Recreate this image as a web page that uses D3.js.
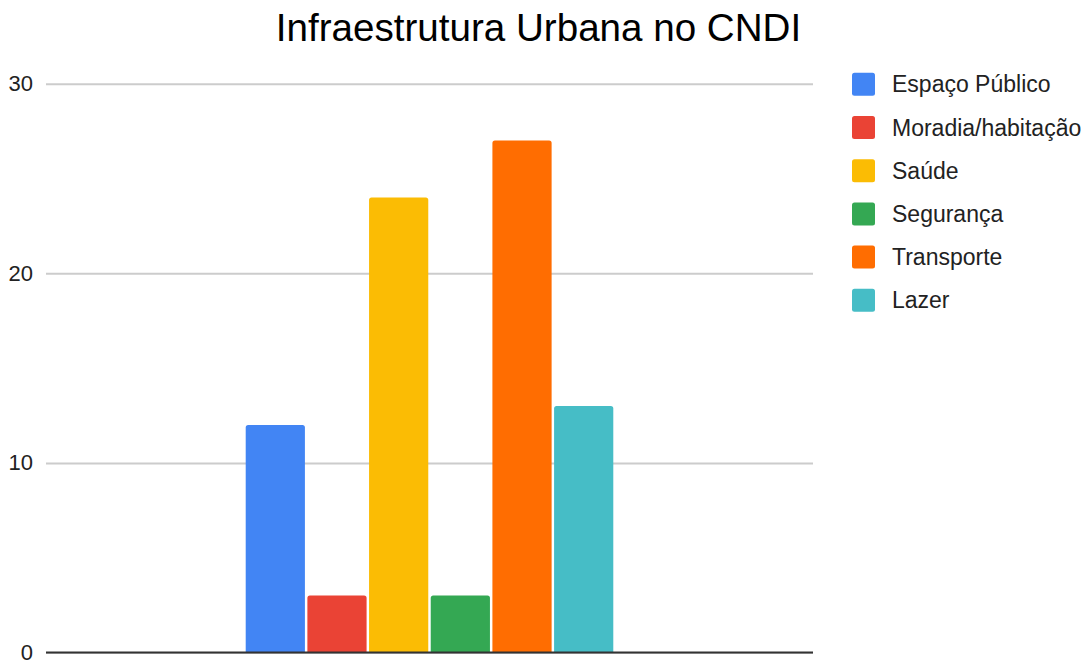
<!DOCTYPE html>
<html lang="pt">
<head>
  <meta charset="UTF-8">
  <title>Infraestrutura Urbana no CNDI</title>
  <script src="https://d3js.org/d3.v7.min.js"></script>
  <style>
    body { margin: 0; background: #fff; }
    svg { display: block; font-family: "Liberation Sans", Arial, sans-serif; }
  </style>
</head>
<body>
  <svg id="chart" width="1087" height="660"></svg>
  <script>
    // dados
    const series = ["Espaço Público", "Moradia/habitação", "Saúde", "Segurança", "Transporte", "Lazer"];
    const values = [12, 3, 24, 3, 27, 13];
    const colors = ["#4285F4", "#EA4335", "#FBBC04", "#34A853", "#FF6D01", "#46BDC6"];
    const yTicks = [0, 10, 20, 30];
    const groups = [""];

    const svg = d3.select("#chart");
    const plotL = 46, plotR = 813, plotT = 83.7, plotB = 652.5;

    const y = d3.scaleLinear().domain([0, 30]).range([plotB, plotT]);
    const x0 = d3.scaleBand().domain(groups).range([plotL, plotR]).paddingOuter(0.5433);
    const x1 = d3.scaleBand().domain(series).range([0, x0.bandwidth()]).paddingInner(0.04);
    const color = d3.scaleOrdinal().domain(series).range(colors);

    // titulo
    svg.append("text")
      .attr("x", 538.5).attr("y", 41)
      .attr("text-anchor", "middle")
      .attr("font-size", 38.6)
      .attr("fill", "#000")
      .text("Infraestrutura Urbana no CNDI");

    // grade
    const yAxis = d3.axisLeft(y).tickValues(yTicks).tickSize(-(plotR - plotL)).tickPadding(13);
    const ga = svg.append("g").attr("transform", `translate(${plotL},0)`).call(yAxis);
    ga.select(".domain").remove();
    ga.selectAll(".tick line").attr("stroke", "#cccccc").attr("stroke-width", 2);
    ga.selectAll(".tick text").attr("font-size", 22).attr("fill", "#222")
      .attr("font-family", "Liberation Sans, Arial, sans-serif");

    // barras
    const r = 2.5;
    function barPath(d) {
      const bx = x0("") + x1(d.s), w = x1.bandwidth();
      const ty = y(d.v), by = y(0);
      return `M${bx},${by}V${ty + r}Q${bx},${ty} ${bx + r},${ty}H${bx + w - r}Q${bx + w},${ty} ${bx + w},${ty + r}V${by}Z`;
    }
    svg.append("g").selectAll("path")
      .data(series.map((s, i) => ({ s: s, v: values[i] })))
      .join("path")
      .attr("d", barPath)
      .attr("fill", d => color(d.s));

    // linha do zero
    svg.append("line")
      .attr("x1", plotL).attr("x2", plotR)
      .attr("y1", y(0)).attr("y2", y(0))
      .attr("stroke", "#333").attr("stroke-width", 2);

    // legenda
    const lg = svg.append("g").attr("transform", "translate(852,84.3)");
    const item = lg.selectAll("g").data(series).join("g")
      .attr("transform", (d, i) => `translate(0,${i * 43.2})`);
    item.append("rect")
      .attr("x", 0).attr("y", -11.5).attr("width", 23).attr("height", 23)
      .attr("rx", 2.5).attr("fill", d => color(d));
    item.append("text")
      .attr("x", 40).attr("y", 8)
      .attr("font-size", 23).attr("fill", "#222")
      .text(d => d);
  </script>
</body>
</html>
